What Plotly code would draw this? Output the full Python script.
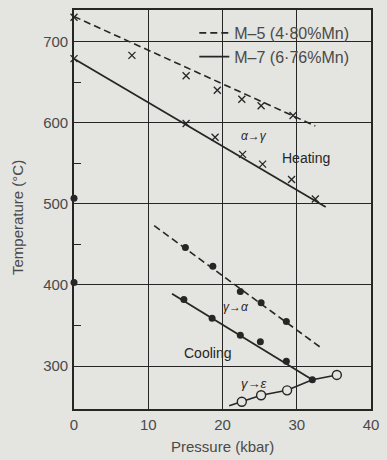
import plotly.graph_objects as go

# ---------------- data ----------------
# Heating (alpha -> gamma), x markers
m5_heat_p = [0, 7.8, 15.1, 19.3, 22.6, 25.2, 29.5]
m5_heat_t = [730, 683, 658, 640, 629, 621, 609]
m5_heat_fit_p = [0, 32.5]
m5_heat_fit_t = [731, 596]

m7_heat_p = [0, 15.1, 19.0, 22.7, 25.4, 29.3, 32.5]
m7_heat_t = [679, 599, 582, 561, 549, 530, 506]
m7_heat_fit_p = [0, 33.9]
m7_heat_fit_t = [679, 496]

# Cooling (gamma -> alpha), filled circles
m5_cool_p = [0, 15.0, 18.7, 22.4, 25.2, 28.6]
m5_cool_t = [507, 446, 423, 392, 378, 355]
m5_cool_fit_p = [10.8, 33.5]
m5_cool_fit_t = [473, 321]

m7_cool_p = [0, 14.8, 18.6, 22.4, 25.1, 28.6, 32.1]
m7_cool_t = [403, 382, 359, 338, 330, 306, 283]
m7_cool_fit_p = [13.2, 32.1]
m7_cool_fit_t = [389, 283]

# gamma -> epsilon, open circles
eps_p = [22.6, 25.2, 28.7, 35.4]
eps_t = [256, 264, 270, 289]
eps_line_p = [20.9, 22.6, 25.2, 28.7, 32.1, 35.4]
eps_line_t = [251, 256, 264, 270, 283, 289]

series_names = ["M–5 (4·80%Mn)", "M–7 (6·76%Mn)"]
x_ticks = [0, 10, 20, 30, 40]
y_ticks = [300, 400, 500, 600, 700]

# ---------------- style ----------------
BG = "#e4e4e0"
INK = "#262626"
TXT = "#4a4a4a"
FONT = "Liberation Sans"

fig = go.Figure()

# fit lines (legend entries)
fig.add_trace(go.Scatter(x=m5_heat_fit_p, y=m5_heat_fit_t, mode="lines",
                         line=dict(color=INK, width=1.6, dash="7px,4px"),
                         name=series_names[0], showlegend=True))
fig.add_trace(go.Scatter(x=m7_heat_fit_p, y=m7_heat_fit_t, mode="lines",
                         line=dict(color=INK, width=1.8),
                         name=series_names[1], showlegend=True))
fig.add_trace(go.Scatter(x=m5_cool_fit_p, y=m5_cool_fit_t, mode="lines",
                         line=dict(color=INK, width=1.6, dash="7px,4px"),
                         showlegend=False))
fig.add_trace(go.Scatter(x=m7_cool_fit_p, y=m7_cool_fit_t, mode="lines",
                         line=dict(color=INK, width=1.8), showlegend=False))
fig.add_trace(go.Scatter(x=eps_line_p, y=eps_line_t, mode="lines",
                         line=dict(color=INK, width=1.6), showlegend=False))

# markers
xmark = dict(symbol="x-thin-open", size=7, color=INK, line=dict(color=INK, width=1.3))
fig.add_trace(go.Scatter(x=m5_heat_p, y=m5_heat_t, mode="markers", marker=xmark,
                         cliponaxis=False, showlegend=False))
fig.add_trace(go.Scatter(x=m7_heat_p, y=m7_heat_t, mode="markers", marker=xmark,
                         cliponaxis=False, showlegend=False))
dot = dict(symbol="circle", size=7, color=INK, line=dict(width=0))
fig.add_trace(go.Scatter(x=m5_cool_p, y=m5_cool_t, mode="markers", marker=dot,
                         cliponaxis=False, showlegend=False))
fig.add_trace(go.Scatter(x=m7_cool_p, y=m7_cool_t, mode="markers", marker=dot,
                         cliponaxis=False, showlegend=False))
fig.add_trace(go.Scatter(x=eps_p, y=eps_t, mode="markers",
                         marker=dict(symbol="circle", size=9, color=BG,
                                     line=dict(color=INK, width=1.4)),
                         cliponaxis=False, showlegend=False))

# in-plot labels
labels = [
    ("<i>α→γ</i>", 24.2, 584, 12),
    ("Heating", 31.3, 557, 14),
    ("<i>γ→α</i>", 21.8, 373, 12),
    ("Cooling", 18.0, 316, 14),
    ("<i>γ→ε</i>", 24.3, 279, 13),
]
for txt, xx, yy, sz in labels:
    fig.add_annotation(x=xx, y=yy, text=txt, showarrow=False,
                       font=dict(family=FONT, size=sz, color=INK))

# axis titles
fig.add_annotation(xref="paper", yref="paper", x=0.5, y=-0.095, xanchor="center",
                   yanchor="middle", text="Pressure (kbar)", showarrow=False,
                   font=dict(family=FONT, size=15, color=TXT))
fig.add_annotation(xref="paper", yref="paper", x=-0.19, y=0.48, xanchor="center",
                   yanchor="middle", textangle=-90,
                   text="Temperature (°C)", showarrow=False,
                   font=dict(family=FONT, size=15, color=TXT))

# blank patch behind the legend (hides grid lines only)
fig.add_shape(type="rect", xref="paper", yref="paper", x0=0.40, x1=0.94,
              y0=0.86, y1=0.975, fillcolor=BG, line=dict(width=0), layer="between")

axis_common = dict(showline=True, linecolor=INK, linewidth=1.6, mirror=True,
                   showgrid=True, gridcolor=INK, gridwidth=1.2, zeroline=False,
                   ticks="", tickfont=dict(family=FONT, size=15, color=TXT))

fig.update_xaxes(range=[0, 40], tickvals=x_ticks, ticktext=[str(v) for v in x_ticks],
                 ticklabelstandoff=1, **axis_common)
fig.update_yaxes(range=[247, 739], tickvals=y_ticks, ticktext=[str(v) for v in y_ticks],
                 ticklabelstandoff=1,
                 minor=dict(tickvals=[350, 450, 550, 650], ticks="inside", ticklen=7,
                            tickcolor=INK, tickwidth=1.2, showgrid=False),
                 **axis_common)

fig.update_layout(
    width=387, height=460,
    margin=dict(l=74, r=8, t=10, b=51),
    paper_bgcolor=BG, plot_bgcolor=BG,
    font=dict(family=FONT, color=TXT),
    legend=dict(x=0.405, y=0.985, xanchor="left", yanchor="top",
                bgcolor="rgba(0,0,0,0)", borderwidth=0, itemwidth=30,
                font=dict(family=FONT, size=16, color=TXT),
                tracegroupgap=0),
    showlegend=True,
)

fig.write_html("out.html", config={"displayModeBar": False},
               post_script="document.body.style.margin='0';document.body.style.overflow='hidden';")
